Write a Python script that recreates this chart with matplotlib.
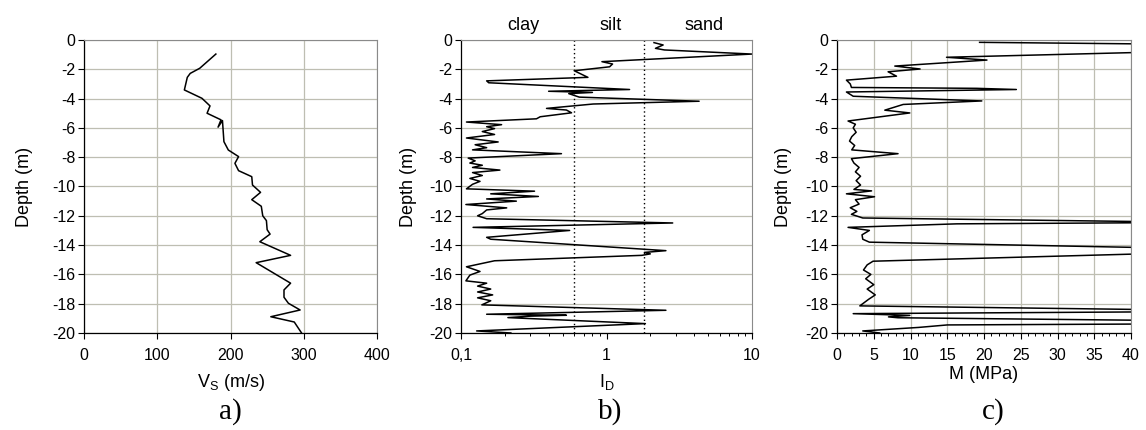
import matplotlib
matplotlib.use("Agg")
import matplotlib.pyplot as plt
import numpy as np
from matplotlib.ticker import MultipleLocator, LogLocator, NullFormatter

plt.rcParams['font.family'] = ['Liberation Sans', 'DejaVu Sans']
plt.rcParams['axes.unicode_minus'] = False
plt.rcParams['mathtext.fontset'] = 'custom'
plt.rcParams['mathtext.rm'] = 'Liberation Sans'

# ---------------- data ----------------
# a) shear wave velocity profile
vs_depth = [-0.96, -1.93, -2.28, -2.55, -3.41, -3.98, -4.5, -5.0, -5.45, -5.95, -5.5,
            -6.94, -7.51, -7.96, -8.42, -8.92, -9.33, -9.9, -10.4, -10.9, -11.35, -12.0,
            -12.33, -12.95, -13.25, -13.77, -14.7, -15.2, -16.6, -17.06, -17.56, -17.97,
            -18.43, -18.89, -19.25, -20.0]
vs = [180, 158, 145, 141, 137, 161, 172, 168, 187, 183, 189,
      191, 197, 211, 206, 211, 229, 230, 241, 229, 242, 244,
      249, 250, 254, 240, 282, 235, 282, 273, 273, 279,
      295, 255, 287, 297]

# b) material index I_D
id_depth = [-0.18, -0.34, -0.57, -0.68, -0.96, -1.48, -1.64, -1.83, -2.10, -2.55,
            -2.79, -2.92, -3.38, -3.50, -3.58, -3.66, -3.90, -4.18, -4.37, -4.67,
            -4.78, -4.97, -5.24, -5.38, -5.60, -5.78, -5.92, -6.05, -6.25, -6.45,
            -6.69, -6.96, -7.15, -7.35, -7.50, -7.76, -8.06, -8.25, -8.40, -8.55,
            -8.70, -8.88, -9.05, -9.25, -9.45, -9.65, -9.85, -10.16, -10.32, -10.50,
            -10.68, -10.85, -11.00, -11.23, -11.46, -11.60, -11.85, -12.00, -12.20, -12.49,
            -12.79, -13.00, -13.47, -13.60, -14.38, -14.50, -14.60, -14.70, -15.07, -15.48,
            -15.80, -16.05, -16.44, -16.60, -16.80, -17.00, -17.20, -17.40, -17.60, -17.80,
            -18.08, -18.45, -18.72, -18.79, -18.85, -18.95, -19.36, -19.86, -20.0]
id_val = [2.12, 2.45, 2.17, 2.5, 10.0, 0.93, 1.10, 1.05, 0.60, 0.745,
          0.150, 0.155, 1.44, 0.40, 0.80, 0.55, 0.65, 4.33, 0.81, 0.387,
          0.53, 0.575, 0.35, 0.33, 0.109, 0.19, 0.15, 0.17, 0.14, 0.17,
          0.109, 0.18, 0.125, 0.15, 0.12, 0.49, 0.112, 0.125, 0.115, 0.14,
          0.12, 0.185, 0.12, 0.14, 0.115, 0.135, 0.12, 0.109, 0.32, 0.16,
          0.34, 0.15, 0.24, 0.108, 0.206, 0.15, 0.14, 0.13, 0.15, 2.85,
          0.121, 0.558, 0.150, 0.16, 2.56, 1.82, 2.0, 1.75, 0.17, 0.109,
          0.135, 0.115, 0.108, 0.15, 0.13, 0.16, 0.13, 0.165, 0.13, 0.16,
          0.139, 2.56, 0.150, 0.53, 0.30, 0.21, 1.85, 0.128, 0.22]

# c) constrained modulus M (MPa)
m_depth = [-0.16, -0.30, -0.50, -0.80, -1.18, -1.37, -1.78, -1.98, -2.17, -2.47,
           -2.74, -3.00, -3.24, -3.30, -3.38, -3.55, -3.84, -4.16, -4.40, -4.79,
           -4.98, -5.53, -5.75, -6.00, -6.30, -6.60, -6.90, -7.20, -7.50, -7.76,
           -8.10, -8.40, -8.70, -9.00, -9.30, -9.60, -9.90, -10.20, -10.30, -10.50,
           -10.70, -10.90, -11.20, -11.45, -11.70, -11.90, -12.15, -12.45, -12.55, -12.79,
           -13.00, -13.30, -13.60, -13.80, -14.35, -14.55, -15.10, -15.35, -15.70, -16.00,
           -16.30, -16.70, -17.00, -17.40, -17.70, -18.15, -18.42, -18.55, -18.68, -18.80,
           -18.90, -18.96, -19.15, -19.38, -19.45, -19.62, -19.86, -20.0]
m_val = [19.4, 48, 60, 45, 14.9, 20.4, 7.86, 11.3, 6.95, 8.09,
         1.28, 1.8, 1.96, 19.0, 24.4, 1.28, 2.2, 19.7, 9.0, 6.5,
         9.9, 1.5, 2.5, 2.2, 2.6, 2.0, 1.7, 2.4, 2.0, 8.3,
         1.96, 2.3, 3.0, 2.5, 3.2, 2.6, 3.2, 2.3, 4.7, 1.28,
         5.1, 2.5, 3.0, 1.8, 2.7, 1.96, 3.5, 50, 16.3, 1.5,
         4.4, 3.4, 3.5, 4.4, 60, 45, 4.9, 4.1, 3.6, 4.6,
         3.9, 5.0, 4.1, 5.2, 4.3, 3.1, 45, 45, 2.2, 9.9,
         7.0, 8.3, 45, 45, 15.0, 11.1, 3.5, 5.8]

soil_labels = ['clay', 'silt', 'sand']
soil_label_x = [0.266, 1.06, 4.69]
soil_bounds = [0.6, 1.8]
depth_ticks = [0, -2, -4, -6, -8, -10, -12, -14, -16, -18, -20]

# ---------------- figure ----------------
fig = plt.figure(figsize=(11.46, 4.30), dpi=100)
GRID = '#bebeb2'
EDGE = '#8a8a8a'
TICK_FS = 11.5
LAB_FS = 13

def style(ax, ylabpad):
    ax.set_ylim(-20, 0)
    ax.set_yticks(depth_ticks)
    ax.set_yticklabels([str(t) for t in depth_ticks])
    ax.grid(True, axis='y', color=GRID, lw=0.9)
    ax.set_axisbelow(True)
    ax.spines['top'].set_color(EDGE)
    ax.spines['right'].set_color(EDGE)
    for s in ['left', 'bottom']:
        ax.spines[s].set_color('black')
        ax.spines[s].set_linewidth(0.9)
    ax.tick_params(axis='y', which='major', direction='out', length=4, width=0.8,
                   labelsize=TICK_FS, pad=2)
    ax.tick_params(axis='x', which='major', direction='out', length=4, width=0.8,
                   labelsize=TICK_FS, pad=7)
    ax.tick_params(axis='x', which='minor', direction='out', length=2.5, width=0.7)
    ax.tick_params(top=False, right=False, which='both')
    ax.set_ylabel('Depth (m)', fontsize=LAB_FS, labelpad=ylabpad)

# panel a
axa = fig.add_axes([0.0733, 0.2256, 0.2557, 0.6814])
axa.plot(vs, vs_depth, color='black', lw=1.1)
axa.set_xlim(0, 400)
axa.set_xticks([0, 100, 200, 300, 400])
axa.grid(True, axis='x', color=GRID, lw=0.9)
style(axa, 14)
axa.set_xlabel(r'$\mathregular{V_S}$ (m/s)', fontsize=LAB_FS, labelpad=6)

# panel b
axb = fig.add_axes([0.4023, 0.2256, 0.2539, 0.6814])
axb.plot(id_val, id_depth, color='black', lw=1.1)
axb.set_xscale('log')
axb.set_xlim(0.1, 10)
axb.set_xticks([0.1, 1, 10])
axb.set_xticklabels(['0,1', '1', '10'])
axb.xaxis.set_minor_locator(LogLocator(base=10, subs=np.arange(2, 10)))
axb.xaxis.set_minor_formatter(NullFormatter())
for b in soil_bounds:
    axb.axvline(b, color='black', ls=(0, (1, 2)), lw=1.0)
style(axb, 9)
axb.set_xlabel(r'$\mathregular{I_D}$', fontsize=LAB_FS, labelpad=6)
for lab, xx in zip(soil_labels, soil_label_x):
    axb.text(xx, 1.05, lab, transform=axb.get_xaxis_transform(), ha='center',
             va='center', fontsize=LAB_FS)

# panel c
axc = fig.add_axes([0.7304, 0.2256, 0.2565, 0.6814])
axc.plot(m_val, m_depth, color='black', lw=1.1)
axc.set_xlim(0, 40)
axc.set_xticks(np.arange(0, 41, 5))
axc.xaxis.set_minor_locator(MultipleLocator(1))
axc.grid(True, axis='x', which='major', color=GRID, lw=0.9)
style(axc, 10)
axc.set_xlabel('M (MPa)', fontsize=LAB_FS, labelpad=2)

for lab, xx in zip(['a)', 'b)', 'c)'], [0.2007, 0.532, 0.8665]):
    fig.text(xx, 0.042, lab, ha='center', va='center', fontsize=21,
             family=['Liberation Serif', 'DejaVu Serif'])

fig.savefig('out.png', dpi=100, facecolor='white')
